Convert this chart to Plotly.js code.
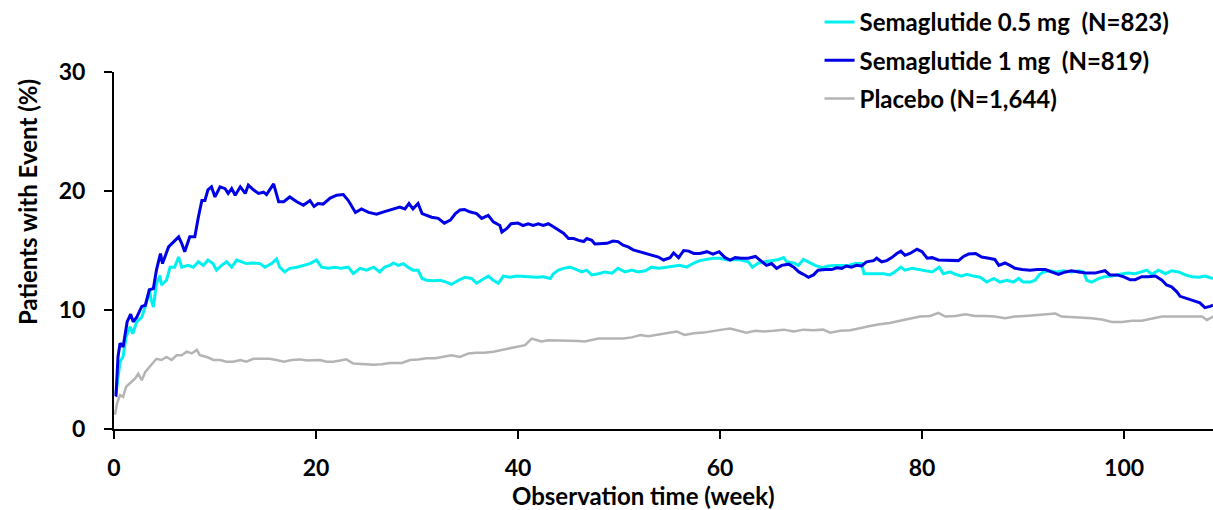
<!DOCTYPE html>
<html>
<head>
<meta charset="utf-8">
<script src="https://cdn.plot.ly/plotly-3.0.1.min.js"></script>
<style>html,body{margin:0;padding:0;background:#fff;}#chart{width:1213px;height:510px;}</style>
</head>
<body>
<div id="chart"></div>
<script>
// Semaglutide 1 mg (N=819)
const weeks1mg = [0.1,0.2,0.4,0.6,0.9,1.1,1.3,1.65,1.9,2.25,2.75,3.1,3.5,3.9,4.2,4.6,4.8,5.4,5.9,6.4,6.7,7.0,7.5,8.0,8.35,8.7,9.0,9.3,9.65,10.0,10.5,11.0,11.3,11.65,12.0,12.5,13.0,13.3,13.8,14.3,14.8,15.1,15.8,16.3,16.8,17.4,18.1,18.75,19.4,19.8,20.2,20.7,21.4,22.05,22.7,23.2,23.9,24.5,25.2,26.0,26.7,27.3,27.8,28.3,28.8,29.2,29.6,30.1,30.5,30.95,31.45,32.1,32.7,33.3,33.8,34.25,34.7,35.2,35.9,36.4,37.05,37.55,38.2,38.4,38.9,39.3,40.0,40.5,41.0,41.5,42.0,42.5,43.0,43.5,44.0,44.5,45.0,45.5,46.0,46.5,46.8,47.3,47.6,48.3,48.8,49.4,49.9,50.4,50.9,51.4,52.1,52.7,53.4,53.9,54.4,55.05,55.4,55.9,56.4,56.9,57.4,58.0,58.7,59.3,59.9,60.5,61.0,61.5,62.1,62.8,63.5,64.0,64.6,65.1,65.6,66.1,66.8,67.3,67.8,68.25,68.75,69.25,69.7,70.4,71.05,71.55,72.05,72.5,73.0,73.5,74.0,74.5,75.2,75.5,76.0,76.5,77.0,77.5,77.9,78.3,78.8,79.5,80.0,80.5,81.0,81.6,82.6,83.6,84.1,84.6,85.3,85.9,86.6,87.2,87.6,88.2,88.7,89.2,89.9,90.7,91.4,92.2,92.8,93.5,94.2,94.8,95.5,96.3,97.1,98.1,98.6,99.3,99.9,100.6,101.1,101.75,102.4,103.1,103.75,104.2,104.7,105.2,105.55,106.4,107.0,107.5,108.0,108.5,108.8];
const values1mg = [2.9,2.85,6.1,7.2,6.9,8.0,9.0,9.65,9.0,9.4,10.3,10.4,11.7,11.8,13.35,14.75,13.9,15.3,15.7,16.15,15.6,14.9,16.15,16.15,17.8,19.2,19.2,20.1,20.35,19.5,20.35,20.2,19.8,20.2,19.65,20.35,19.8,20.5,20.1,19.8,19.9,19.7,20.6,19.1,19.1,19.5,19.1,18.8,19.2,18.7,18.95,18.9,19.4,19.65,19.7,19.2,18.2,18.5,18.2,18.05,18.25,18.4,18.5,18.65,18.5,18.95,18.5,18.95,18.1,17.95,17.8,17.7,17.3,17.55,18.1,18.4,18.45,18.25,18.1,17.7,17.95,17.4,17.1,16.55,16.85,17.25,17.3,17.1,17.25,17.1,17.25,17.1,17.25,17.0,16.7,16.45,16.0,16.0,15.85,15.75,16.0,15.85,15.55,15.55,15.6,15.8,15.75,15.45,15.3,15.05,14.9,14.75,14.6,14.45,14.2,14.4,14.8,14.4,15.0,14.95,14.75,14.75,14.9,14.7,14.9,14.4,14.2,14.4,14.35,14.35,14.5,14.15,13.75,13.9,13.5,13.75,13.85,13.6,13.2,13.0,12.75,12.95,13.35,13.4,13.4,13.55,13.5,13.7,13.6,13.75,13.7,14.05,14.15,14.35,14.05,14.15,14.4,14.75,14.95,14.6,14.75,15.1,14.9,14.35,14.4,14.2,14.15,14.15,14.5,14.7,14.75,14.45,14.35,14.25,13.75,13.95,13.75,13.5,13.4,13.35,13.4,13.4,13.2,13.0,13.2,13.3,13.2,13.1,13.1,13.3,12.95,12.95,12.8,12.55,12.55,12.8,12.8,12.85,12.5,12.1,11.95,11.55,11.15,10.95,10.75,10.6,10.2,10.3,10.4];

// Semaglutide 0.5 mg (N=823)
const weeks05mg = [0.1,0.2,0.6,0.9,1.2,1.6,1.85,2.25,2.75,3.2,3.5,3.7,3.9,4.2,4.55,4.7,5.2,5.55,6.0,6.4,6.7,7.35,7.85,8.35,8.85,9.3,9.8,10.15,10.65,11.15,11.65,12.15,12.65,13.1,13.8,14.45,14.95,15.6,16.1,16.4,16.9,17.4,18.1,18.75,19.4,20.05,20.55,21.2,21.9,22.5,23.2,23.7,24.35,25.0,25.7,26.3,26.8,27.3,27.65,28.15,28.65,29.1,29.6,30.1,30.5,30.95,31.6,32.3,32.9,33.4,34.1,34.75,35.4,35.9,36.4,37.05,37.55,38.05,38.55,39.2,39.9,40.5,41.2,41.85,42.5,43.2,43.5,44.0,44.5,45.15,45.8,46.3,46.8,47.3,47.95,48.6,49.3,49.9,50.6,51.25,51.9,52.6,53.2,53.9,54.7,55.4,56.0,56.7,57.4,58.0,58.7,59.3,60.0,60.7,61.5,62.1,62.8,63.2,63.8,64.5,65.1,65.8,66.3,66.6,67.3,67.75,68.25,68.75,69.4,70.1,70.7,71.4,72.05,72.7,73.4,74.0,74.25,74.85,75.5,76.2,76.8,77.3,77.9,78.3,79.0,79.6,80.3,81.0,81.7,82.1,82.8,83.3,83.9,84.4,85.1,85.75,86.4,87.1,87.7,88.4,89.05,89.55,90.0,90.7,91.2,91.6,92.0,92.7,93.3,94.0,94.8,95.5,96.0,96.3,96.8,97.5,98.1,98.8,99.6,100.4,101.1,101.75,102.25,102.75,103.4,104.1,104.7,105.4,106.05,106.7,107.4,108.0,108.8];
const values05mg = [3.0,3.0,5.65,6.1,7.75,8.6,8.0,9.0,9.4,10.55,11.7,10.8,10.25,12.2,12.9,12.1,12.5,13.6,13.6,14.45,13.6,13.75,13.6,14.05,13.75,14.2,13.9,13.35,13.75,14.05,13.6,14.2,14.05,13.9,13.95,13.9,13.6,13.9,14.3,13.6,13.2,13.5,13.6,13.75,13.9,14.2,13.6,13.5,13.6,13.5,13.6,13.05,13.5,13.35,13.6,13.2,13.6,13.75,13.95,13.75,13.9,13.6,13.35,13.35,12.65,12.5,12.45,12.5,12.35,12.15,12.5,12.75,12.65,12.25,12.5,12.85,12.5,12.25,12.85,12.75,12.85,12.8,12.8,12.75,12.8,12.65,13.05,13.35,13.5,13.6,13.4,13.2,13.35,12.95,13.05,13.2,13.1,13.5,13.2,13.35,13.2,13.3,13.6,13.5,13.6,13.7,13.75,13.6,13.95,14.15,14.25,14.35,14.35,14.2,14.25,14.2,14.05,13.6,13.95,14.05,14.2,14.25,14.4,14.05,13.95,13.75,14.25,14.05,13.75,13.55,13.7,13.75,13.75,13.75,13.9,13.9,13.05,13.05,13.1,13.05,12.95,13.2,13.6,13.35,13.5,13.4,13.3,13.2,13.6,13.05,13.2,13.0,12.85,13.0,12.85,12.75,12.35,12.65,12.35,12.5,12.35,12.65,12.35,12.35,12.5,12.95,13.2,13.3,13.2,13.3,13.2,13.3,13.2,12.5,12.35,12.65,12.8,12.85,13.0,13.1,13.05,13.2,13.35,13.0,13.35,13.05,13.3,13.2,12.95,12.8,12.75,12.85,12.65];

// Placebo (N=1,644)
const weeksPlacebo = [0.1,0.3,0.6,0.9,1.2,1.6,2.1,2.4,2.75,3.1,3.4,3.7,4.2,4.7,5.2,5.7,6.2,6.7,7.2,7.7,8.2,8.5,9.2,9.85,10.5,11.15,11.8,12.5,13.1,13.8,14.6,15.4,16.1,16.8,17.6,18.4,19.1,19.7,20.4,21.05,21.7,22.4,23.0,23.7,24.7,25.7,26.5,27.3,28.5,29.3,30.1,30.95,31.8,32.6,33.4,34.25,35.1,35.9,36.7,37.55,38.4,39.2,40.0,40.7,41.35,41.85,42.3,43.0,44.0,45.0,46.0,46.6,47.3,47.95,48.8,49.6,50.4,51.25,52.1,52.9,53.7,54.4,54.9,55.7,56.5,57.4,58.35,59.3,60.2,61.0,61.8,62.6,63.5,64.3,65.3,66.3,67.3,68.25,69.25,70.2,70.9,71.9,72.9,73.9,74.85,75.8,76.8,77.8,78.8,79.8,80.8,81.6,82.3,83.3,84.3,85.25,86.25,87.2,88.2,89.2,90.2,91.2,92.2,93.2,93.8,94.8,95.8,96.8,97.8,98.8,99.8,100.8,101.75,102.75,103.75,104.7,105.7,106.7,107.7,108.2,108.8];
const valuesPlacebo = [1.2,2.15,2.85,2.7,3.55,3.85,4.25,4.65,4.1,4.8,5.1,5.35,5.9,5.8,6.05,5.8,6.2,6.2,6.5,6.35,6.65,6.2,6.05,5.8,5.8,5.65,5.65,5.8,5.65,5.9,5.9,5.9,5.8,5.65,5.8,5.85,5.75,5.8,5.8,5.65,5.65,5.75,5.85,5.5,5.45,5.4,5.45,5.55,5.55,5.8,5.85,5.95,5.95,6.05,6.2,6.05,6.35,6.4,6.4,6.5,6.65,6.75,6.9,7.05,7.6,7.45,7.35,7.45,7.45,7.4,7.4,7.35,7.45,7.6,7.6,7.6,7.6,7.7,7.9,7.8,7.9,8.0,8.05,8.2,7.9,8.05,8.1,8.2,8.35,8.45,8.25,8.1,8.25,8.2,8.25,8.35,8.2,8.35,8.3,8.35,8.1,8.25,8.3,8.45,8.65,8.8,8.9,9.1,9.3,9.45,9.5,9.75,9.45,9.5,9.65,9.5,9.5,9.45,9.3,9.45,9.5,9.55,9.65,9.7,9.45,9.4,9.4,9.3,9.2,9.0,9.0,9.1,9.1,9.3,9.45,9.45,9.45,9.45,9.45,9.15,9.45];

const seriesNames = ['Semaglutide 0.5 mg\u00A0 (N=823)', 'Semaglutide 1 mg\u00A0 (N=819)', 'Placebo (N=1,644)'];
const xTickValues = [0, 20, 40, 60, 80, 100];
const yTickValues = [0, 10, 20, 30];
const xTitle = 'Observation time (week)';
const yTitle = 'Patients with Event (%)';

const FONT = 'Lato, "Open Sans", sans-serif';

const traces = [
  {x: weeks05mg, y: values05mg, name: seriesNames[0], legendgroup: 'a', line: {color: '#00F0F0', width: 3}},
  {x: weeks1mg, y: values1mg, name: seriesNames[1], legendgroup: 'b', line: {color: '#0000E6', width: 3}},
  {x: weeksPlacebo, y: valuesPlacebo, name: seriesNames[2], legendgroup: 'c', line: {color: '#B4B4B4', width: 2.5}}
].map(t => Object.assign({type: 'scatter', mode: 'lines', hoverinfo: 'skip'}, t));

const layout = {
  width: 1213, height: 510,
  margin: {l: 114, r: 0, t: 72, b: 81},
  paper_bgcolor: '#fff', plot_bgcolor: '#fff',
  font: {family: FONT, color: '#000', weight: 700},
  showlegend: true,
  legend: {
    x: 0.642, y: 1.203, xanchor: 'left', yanchor: 'top',
    font: {family: FONT, size: 24, color: '#000', weight: 700},
    bgcolor: 'rgba(0,0,0,0)', tracegroupgap: 4, itemwidth: 30,
    traceorder: 'grouped'
  },
  xaxis: {
    range: [0, 108.8], tickvals: xTickValues, ticktext: xTickValues.map(String),
    showgrid: false, zeroline: false, showline: true, linecolor: '#000', linewidth: 2,
    ticks: 'outside', ticklen: 8, tickwidth: 2, tickcolor: '#000',
    tickfont: {family: FONT, size: 23, color: '#000', weight: 700},
    ticklabelstandoff: 9
  },
  yaxis: {
    range: [0, 30], tickvals: yTickValues, ticktext: yTickValues.map(String),
    showgrid: false, zeroline: false, showline: true, linecolor: '#000', linewidth: 2,
    ticks: 'outside', ticklen: 8, tickwidth: 2, tickcolor: '#000',
    tickfont: {family: FONT, size: 23, color: '#000', weight: 700},
    ticklabelstandoff: 14
  },
  annotations: [
    {text: xTitle, xref: 'paper', yref: 'paper', x: (643-114)/1099, y: -(495-429)/357, xanchor: 'center', yanchor: 'middle', showarrow: false,
     font: {family: FONT, size: 24, color: '#000', weight: 700}},
    {text: yTitle, xref: 'paper', yref: 'paper', x: -(114-27)/1099, y: (429-202)/357, xanchor: 'center', yanchor: 'middle', textangle: -90, showarrow: false,
     font: {family: FONT, size: 24, color: '#000', weight: 700}}
  ]
};

Plotly.newPlot('chart', traces, layout, {staticPlot: true, displayModeBar: false});
</script>
</body>
</html>
